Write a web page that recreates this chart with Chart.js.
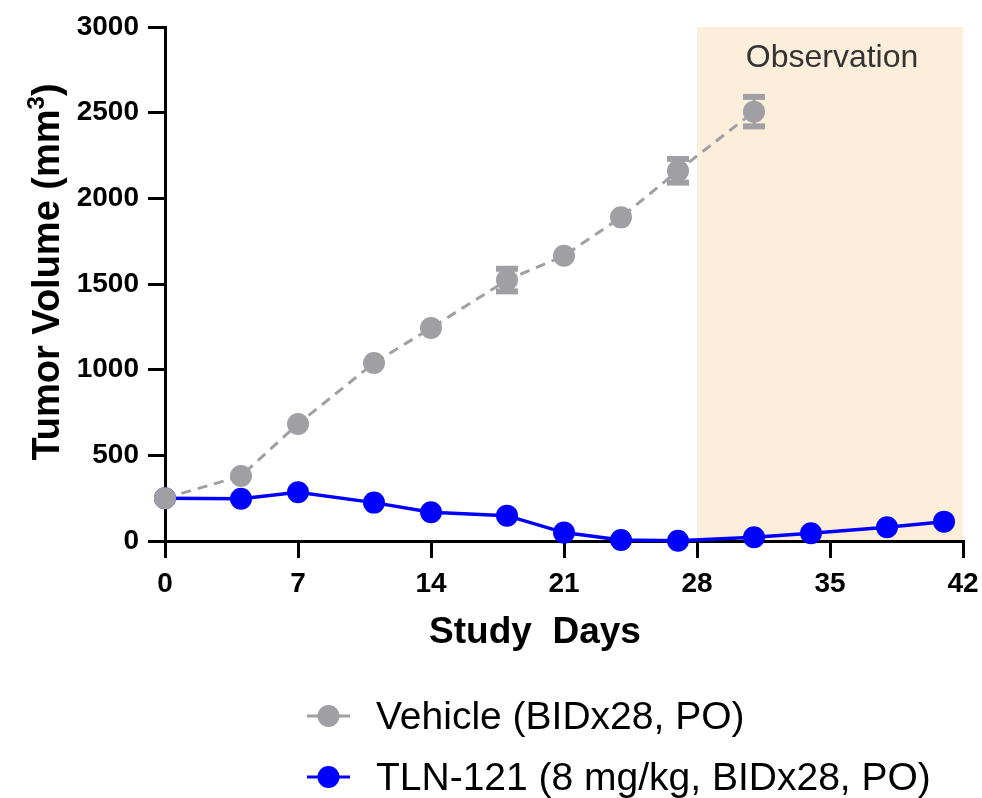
<!DOCTYPE html>
<html>
<head>
<meta charset="utf-8">
<script src="https://cdn.jsdelivr.net/npm/chart.js@4/dist/chart.umd.min.js"></script>
<style>
  html, body { margin: 0; padding: 0; background: #ffffff; }
  canvas { display: block; }
</style>
</head>
<body>
<canvas id="myChart" width="982" height="798"></canvas>
<script>
const xTicks = [0, 7, 14, 21, 28, 35, 42];
const yTicks = [0, 500, 1000, 1500, 2000, 2500, 3000];

const vehicleDays = [0, 4, 7, 11, 14, 18, 21, 24, 27, 31];
const vehicleVolume = [250, 379, 683, 1039, 1243, 1523, 1665, 1889, 2161, 2506];
const vehicleErr = [0, 0, 0, 0, 0, 66, 0, 0, 69, 86];

const tlnDays = [0, 4, 7, 11, 14, 18, 21, 24, 27, 31, 34, 38, 41];
const tlnVolume = [249, 247, 284, 224, 168, 148, 49, 6, 2, 22, 45, 80, 113];

const observationWindow = [28, 42];

const FONT = "'Liberation Sans', Arial, sans-serif";
const GRAY = '#A0A0A4';
const BLUE = '#0000FF';

// shaded observation period, under the axes
const observationPlugin = {
    id: 'observation',
    beforeDraw(chart) {
        const { ctx, chartArea, scales } = chart;
        const x0 = scales.x.getPixelForValue(observationWindow[0]);
        const x1 = scales.x.getPixelForValue(observationWindow[1]);
        ctx.save();
        ctx.fillStyle = '#FDEEDC';
        ctx.fillRect(x0, chartArea.top, x1 - x0, chartArea.bottom - chartArea.top);
        ctx.fillStyle = '#333333';
        ctx.font = '32px ' + FONT;
        ctx.textAlign = 'center';
        ctx.textBaseline = 'alphabetic';
        ctx.fillText('Observation', (x0 + x1) / 2 + 2, chartArea.top + 40);
        ctx.restore();
    }
};

// SEM bars for the vehicle group
const errorBarPlugin = {
    id: 'errorBars',
    afterDatasetsDraw(chart) {
        const { ctx, scales } = chart;
        const meta = chart.getDatasetMeta(0);
        ctx.save();
        ctx.fillStyle = GRAY;
        meta.data.forEach((pt, i) => {
            const e = vehicleErr[i];
            if (!e) return;
            const yTop = scales.y.getPixelForValue(vehicleVolume[i] + e);
            const yBot = scales.y.getPixelForValue(vehicleVolume[i] - e);
            ctx.fillRect(pt.x - 1.5, yTop, 3, yBot - yTop);
            ctx.fillRect(pt.x - 11, yTop - 3, 22, 6);
            ctx.fillRect(pt.x - 11, yBot - 3, 22, 6);
        });
        ctx.restore();
    }
};

// axis titles (the y one has a real superscript)
const titlesPlugin = {
    id: 'axisTitles',
    afterDraw(chart) {
        const { ctx } = chart;
        ctx.save();
        ctx.fillStyle = '#000000';
        ctx.textBaseline = 'alphabetic';

        ctx.font = 'bold 37px ' + FONT;
        ctx.textAlign = 'center';
        ctx.fillText('Study  Days', 535, 643);

        ctx.translate(59, 272);
        ctx.rotate(-Math.PI / 2);
        const big = 'bold 38px ' + FONT;
        const small = 'bold 24px ' + FONT;
        ctx.font = big;
        const w1 = ctx.measureText('Tumor Volume (mm').width;
        const w3 = ctx.measureText(')').width;
        ctx.font = small;
        const w2 = ctx.measureText('3').width;
        let x = -(w1 + w2 + w3) / 2;
        ctx.textAlign = 'left';
        ctx.font = big;
        ctx.fillText('Tumor Volume (mm', x, 0);
        x += w1;
        ctx.font = small;
        ctx.fillText('3', x, -15);
        x += w2;
        ctx.font = big;
        ctx.fillText(')', x, 0);
        ctx.restore();
    }
};

// legend below the x axis title
const legendPlugin = {
    id: 'bottomLegend',
    afterDraw(chart) {
        const { ctx } = chart;
        const rows = [716, 777];
        ctx.save();
        chart.data.datasets.forEach((ds, i) => {
            const y = rows[i];
            ctx.strokeStyle = ds.borderColor;
            ctx.lineWidth = 3;
            ctx.beginPath();
            if (ds.borderDash) {
                ctx.moveTo(307, y); ctx.lineTo(318, y);
                ctx.moveTo(339, y); ctx.lineTo(350, y);
            } else {
                ctx.moveTo(307, y); ctx.lineTo(350, y);
            }
            ctx.stroke();
            ctx.fillStyle = ds.pointBackgroundColor;
            ctx.beginPath();
            ctx.arc(328.5, y, 11, 0, Math.PI * 2);
            ctx.fill();
            ctx.fillStyle = '#000000';
            ctx.font = '39px ' + FONT;
            ctx.textAlign = 'left';
            ctx.textBaseline = 'alphabetic';
            ctx.fillText(ds.label, 376, y + 13);
        });
        ctx.restore();
    }
};

const data = {
    datasets: [{
        label: 'Vehicle (BIDx28, PO)',
        data: vehicleDays.map((d, i) => ({ x: d, y: vehicleVolume[i] })),
        borderColor: GRAY,
        borderWidth: 3,
        borderDash: [10, 7],
        pointRadius: 11,
        pointBorderWidth: 0,
        pointBackgroundColor: GRAY,
        clip: false
    }, {
        label: 'TLN-121 (8 mg/kg, BIDx28, PO)',
        data: tlnDays.map((d, i) => ({ x: d, y: tlnVolume[i] })),
        borderColor: BLUE,
        borderWidth: 3.5,
        pointRadius: 11,
        pointBorderWidth: 0,
        pointBackgroundColor: BLUE,
        clip: false
    }]
};

const config = {
    type: 'line',
    data: data,
    options: {
        responsive: false,
        animation: false,
        layout: { padding: { top: 27, right: 19, bottom: 146, left: 0 } },
        scales: {
            x: {
                type: 'linear',
                min: 0,
                max: 42,
                afterBuildTicks: axis => { axis.ticks = xTicks.map(v => ({ value: v })); },
                afterFit: axis => {
                    axis.height = 111;
                    axis.paddingLeft = 0;
                    axis.paddingRight = 0;
                },
                ticks: {
                    color: '#000000',
                    padding: 9,
                    callback: v => String(v),
                    font: { family: FONT, size: 28, weight: 'bold' }
                },
                grid: { drawOnChartArea: false, tickLength: 17, lineWidth: 3, color: '#000000' },
                border: { color: '#000000', width: 3 }
            },
            y: {
                min: 0,
                max: 3000,
                afterBuildTicks: axis => { axis.ticks = yTicks.map(v => ({ value: v })); },
                afterFit: axis => {
                    axis.width = 165;
                    axis.paddingTop = 0;
                    axis.paddingBottom = 0;
                },
                ticks: {
                    color: '#000000',
                    padding: 9,
                    callback: v => String(v),
                    font: { family: FONT, size: 28, weight: 'bold' }
                },
                grid: { drawOnChartArea: false, tickLength: 17, lineWidth: 3, color: '#000000' },
                border: { color: '#000000', width: 3 }
            }
        },
        plugins: {
            legend: { display: false },
            tooltip: { enabled: false }
        }
    },
    plugins: [observationPlugin, errorBarPlugin, titlesPlugin, legendPlugin]
};

const myChart = new Chart(
    document.getElementById('myChart'),
    config
);
</script>
</body>
</html>
